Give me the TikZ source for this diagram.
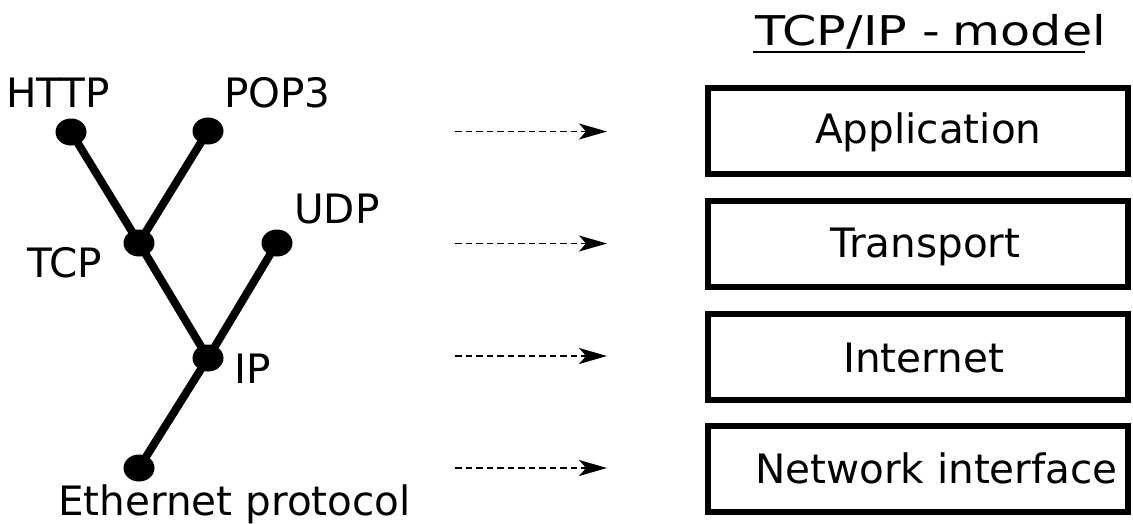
\documentclass[tikz,border=0pt]{standalone}
\usepackage{fontspec}
\setmainfont{DejaVu Sans}
\usetikzlibrary{shapes.geometric,arrows.meta}
\begin{document}
\begin{tikzpicture}[x=1pt,y=-1pt,
  dot/.style={ellipse,fill=black,minimum width=31pt,minimum height=27pt,inner sep=0pt},
  lbl/.style={anchor=base west,inner sep=0pt,font=\fontsize{40.5}{47}\selectfont},
  edge/.style={line width=8pt},
  layer/.style={draw,line width=6pt,minimum width=420pt,minimum height=86pt,inner sep=0pt},
  maparrow/.style={line width=1.8pt,dash pattern=on 6.5pt off 4pt,-{Stealth[length=28pt,width=16pt,inset=7pt]}}]
\useasboundingbox (0,0) rectangle (1133,523);
% tree
\node[dot] (http) at (71,132) {};
\node[dot] (pop) at (208,131) {};
\node[dot] (tcp) at (139,243) {};
\node[dot] (udp) at (277,243) {};
\node[dot] (ip) at (208,358) {};
\node[dot] (eth) at (139,468) {};
\draw[edge] (http.center) -- (tcp.center);
\draw[edge] (pop.center) -- (tcp.center);
\draw[edge] (tcp.center) -- (ip.center);
\draw[edge] (udp.center) -- (ip.center);
\draw[edge] (ip.center) -- (eth.center);
\node[lbl] (lhttp) at (6,107) {HTTP};
\node[lbl] (lpop) at (224,107) {POP3};
\node[lbl] (ludp) at (294,223) {UDP};
\node[lbl] (ltcp) at (27,277) {TCP};
\node[lbl] (lip) at (234,383) {IP};
\node[lbl] (leth) at (58,515) {Ethernet protocol};
% layers
\node[layer] (app) at (918,131) {};
\node[layer] (tra) at (918,243.5) {};
\node[layer] (int) at (918,356.5) {};
\node[layer] (net) at (918,469) {};
\node[lbl] (tapp) at (815,143) {Application};
\node[lbl] (ttra) at (830,257) {Transport};
\node[lbl] (tint) at (843,372) {Internet};
\node[lbl] (tnet) at (755,483) {Network interface};
% title
\node[anchor=base west,inner sep=0pt,font=\fontsize{41}{48}\selectfont,xscale=1.2] (title) at (755,45) {TCP/IP -\hspace{0.25em}model};
\coordinate (ul1) at (753,52);
\coordinate (ul2) at (1085,52);
\draw[line width=2pt] (ul1) -- (ul2);
% arrows
\coordinate (a1) at (455,131.5);
\coordinate (b1) at (607,131.5);
\coordinate (a2) at (455,243.5);
\coordinate (b2) at (607,243.5);
\coordinate (a3) at (455,356);
\coordinate (b3) at (607,356);
\coordinate (a4) at (455,468);
\coordinate (b4) at (607,468);
\draw[maparrow] (a1) -- (b1);
\draw[maparrow] (a2) -- (b2);
\draw[maparrow] (a3) -- (b3);
\draw[maparrow] (a4) -- (b4);
\end{tikzpicture}
\end{document}
